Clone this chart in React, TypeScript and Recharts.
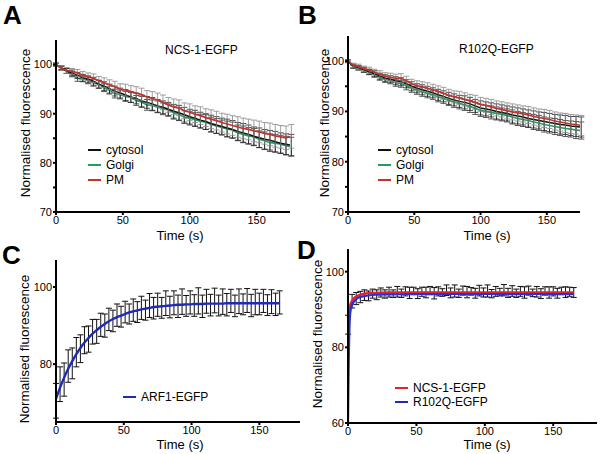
import React from 'react';
import { LineChart, Line, XAxis, YAxis, ErrorBar } from 'recharts';

// ---------- data ----------
const timeAB = [0, 4, 8, 12, 16, 20, 24, 28, 32, 36, 40, 44, 48, 52, 56, 60, 64, 68, 72, 76, 80, 84, 88, 92, 96, 100, 104, 108, 112, 116, 120, 124, 128, 132, 136, 140, 144, 148, 152, 156, 160, 164, 168, 172, 176];

// Panel A: NCS-1-EGFP
const cytosolA = [100.0, 99.4, 98.7, 98.3, 97.8, 97.3, 97.0, 96.6, 96.0, 95.6, 95.1, 94.6, 94.2, 93.8, 93.4, 93.1, 92.6, 92.3, 92.0, 91.6, 91.3, 90.9, 90.5, 90.2, 89.8, 89.4, 89.1, 88.7, 88.4, 88.0, 87.7, 87.4, 87.1, 86.8, 86.4, 86.1, 85.8, 85.4, 85.1, 84.8, 84.6, 84.3, 84.0, 83.8, 83.6];
const golgiA = [100.0, 99.2, 98.7, 98.0, 97.2, 97.1, 96.8, 96.3, 96.0, 95.3, 94.8, 94.1, 93.9, 93.5, 93.3, 92.7, 92.4, 91.8, 91.7, 91.4, 91.0, 90.8, 90.2, 89.9, 89.3, 89.1, 88.8, 88.5, 88.3, 87.8, 87.5, 87.2, 86.9, 86.7, 86.1, 85.8, 85.5, 85.3, 84.8, 84.5, 84.1, 84.0, 83.8, 83.5, 83.3];
const pmA = [100.0, 99.3, 98.8, 98.6, 98.3, 97.8, 97.5, 97.2, 96.7, 96.3, 95.9, 95.5, 95.0, 94.8, 94.5, 94.2, 93.9, 93.4, 93.1, 92.8, 92.3, 91.8, 91.4, 91.2, 90.6, 90.3, 89.9, 89.6, 89.2, 88.9, 88.6, 88.2, 87.9, 87.6, 87.3, 87.0, 86.8, 86.5, 86.3, 86.0, 85.8, 85.5, 85.3, 85.1, 85.4];
const cytosolErrA = [0.3, 0.4, 0.5, 0.6, 0.6, 0.7, 0.7, 0.8, 0.8, 0.9, 0.9, 1.0, 1.0, 1.1, 1.1, 1.1, 1.2, 1.2, 1.3, 1.3, 1.3, 1.4, 1.4, 1.5, 1.5, 1.5, 1.6, 1.6, 1.6, 1.7, 1.7, 1.7, 1.8, 1.8, 1.8, 1.9, 1.9, 1.9, 2.0, 2.0, 2.0, 2.1, 2.1, 2.1, 2.2];
const golgiErrA = [0.3, 0.4, 0.5, 0.5, 0.6, 0.6, 0.7, 0.7, 0.8, 0.8, 0.8, 0.9, 0.9, 1.0, 1.0, 1.0, 1.1, 1.1, 1.1, 1.2, 1.2, 1.2, 1.3, 1.3, 1.3, 1.4, 1.4, 1.4, 1.5, 1.5, 1.5, 1.5, 1.6, 1.6, 1.6, 1.7, 1.7, 1.7, 1.7, 1.8, 1.8, 1.8, 1.8, 1.9, 1.9];
const pmErrA = [0.3, 0.5, 0.6, 0.6, 0.7, 0.8, 0.8, 0.9, 0.9, 1.0, 1.0, 1.1, 1.1, 1.2, 1.2, 1.3, 1.3, 1.3, 1.4, 1.4, 1.5, 1.5, 1.6, 1.6, 1.6, 1.7, 1.7, 1.8, 1.8, 1.9, 1.9, 1.9, 2.0, 2.0, 2.1, 2.1, 2.1, 2.2, 2.2, 2.2, 2.3, 2.3, 2.3, 2.4, 2.4];

// Panel B: R102Q-EGFP
const cytosolB = [100.0, 99.0, 98.7, 98.3, 97.9, 97.5, 97.0, 96.6, 96.4, 96.1, 95.9, 95.5, 95.0, 94.6, 94.3, 94.0, 93.7, 93.3, 93.0, 92.6, 92.3, 92.0, 91.8, 91.5, 91.1, 90.7, 90.5, 90.3, 90.0, 89.8, 89.6, 89.3, 89.1, 88.9, 88.6, 88.4, 88.2, 88.0, 87.8, 87.6, 87.4, 87.3, 87.1, 87.0, 86.9];
const golgiB = [100.0, 98.9, 98.6, 98.2, 97.8, 97.3, 96.8, 96.4, 96.1, 95.7, 95.5, 95.1, 94.6, 94.2, 93.9, 93.6, 93.3, 92.9, 92.6, 92.2, 91.9, 91.6, 91.3, 91.0, 90.6, 90.2, 90.0, 89.8, 89.6, 89.4, 89.2, 88.9, 88.6, 88.4, 88.2, 87.9, 87.7, 87.4, 87.2, 87.0, 86.8, 86.6, 86.5, 86.3, 86.2];
const pmB = [100.0, 99.2, 98.9, 98.5, 98.2, 97.8, 97.4, 97.0, 96.8, 96.6, 96.6, 96.1, 95.5, 95.1, 94.9, 94.6, 94.3, 94.0, 93.6, 93.2, 92.9, 92.7, 92.4, 92.1, 91.8, 91.4, 91.2, 90.9, 90.6, 90.4, 90.1, 89.9, 89.7, 89.5, 89.3, 89.0, 88.8, 88.6, 88.4, 88.1, 87.9, 87.7, 87.5, 87.4, 87.2];
const cytosolErrB = [0.3, 0.4, 0.4, 0.5, 0.5, 0.6, 0.6, 0.7, 0.7, 0.8, 0.8, 0.8, 0.9, 0.9, 1.0, 1.0, 1.0, 1.1, 1.1, 1.2, 1.2, 1.2, 1.3, 1.3, 1.3, 1.4, 1.4, 1.4, 1.5, 1.5, 1.5, 1.6, 1.6, 1.6, 1.7, 1.7, 1.7, 1.8, 1.8, 1.8, 1.9, 1.9, 1.9, 2.0, 2.0];
const golgiErrB = [0.2, 0.3, 0.4, 0.4, 0.5, 0.5, 0.6, 0.6, 0.6, 0.7, 0.7, 0.8, 0.8, 0.8, 0.9, 0.9, 0.9, 1.0, 1.0, 1.0, 1.1, 1.1, 1.1, 1.2, 1.2, 1.2, 1.2, 1.3, 1.3, 1.3, 1.3, 1.4, 1.4, 1.4, 1.4, 1.5, 1.5, 1.5, 1.5, 1.6, 1.6, 1.6, 1.6, 1.7, 1.7];
const pmErrB = [0.3, 0.4, 0.5, 0.5, 0.6, 0.6, 0.7, 0.7, 0.8, 0.8, 0.9, 0.9, 0.9, 1.0, 1.0, 1.1, 1.1, 1.1, 1.2, 1.2, 1.2, 1.3, 1.3, 1.3, 1.4, 1.4, 1.4, 1.5, 1.5, 1.5, 1.6, 1.6, 1.6, 1.6, 1.7, 1.7, 1.7, 1.8, 1.8, 1.8, 1.8, 1.9, 1.9, 1.9, 2.0];

// Panels C and D
const timeCD = [0, 3, 6, 9, 12, 15, 18, 21, 24, 27, 30, 33, 36, 39, 42, 45, 48, 51, 54, 57, 60, 63, 66, 69, 72, 75, 78, 81, 84, 87, 90, 93, 96, 99, 102, 105, 108, 111, 114, 117, 120, 123, 126, 129, 132, 135, 138, 141, 144, 147, 150, 153, 156, 159, 162, 165];
const arf1Fit = [71.0, 73.9, 76.5, 78.8, 80.8, 82.6, 84.2, 85.6, 86.8, 87.9, 88.8, 89.7, 90.4, 91.1, 91.7, 92.2, 92.6, 93.0, 93.4, 93.7, 93.9, 94.2, 94.4, 94.6, 94.8, 94.9, 95.0, 95.1, 95.2, 95.3, 95.4, 95.4, 95.5, 95.5, 95.6, 95.6, 95.6, 95.7, 95.7, 95.7, 95.7, 95.7, 95.8, 95.8, 95.8, 95.8, 95.8, 95.8, 95.8, 95.8, 95.8, 95.8, 95.8, 95.8, 95.8, 95.8];
const arf1Data = [70.5, 74.8, 76.0, 79.5, 80.2, 83.1, 84.0, 86.2, 86.5, 88.4, 88.5, 90.2, 90.0, 91.6, 91.2, 92.7, 92.3, 93.5, 93.0, 94.0, 93.5, 94.6, 94.0, 95.2, 94.5, 95.4, 94.6, 95.8, 94.8, 95.9, 95.0, 96.2, 95.1, 96.0, 95.2, 96.4, 95.0, 96.3, 95.3, 96.5, 95.2, 96.2, 95.4, 96.4, 95.1, 96.3, 95.5, 96.5, 95.2, 96.1, 95.6, 96.4, 95.3, 96.2, 95.5, 96.0];
const arf1Err = [4.5, 4.5, 4.3, 4.2, 4.0, 3.8, 3.6, 3.5, 3.4, 3.2, 3.1, 3.0, 3.0, 2.9, 2.8, 2.9, 2.7, 2.8, 2.6, 2.9, 2.7, 3.0, 2.6, 3.1, 2.8, 3.0, 2.7, 3.2, 2.8, 3.1, 2.9, 3.3, 2.7, 3.0, 2.8, 3.4, 2.9, 3.1, 2.8, 3.2, 2.7, 3.3, 2.9, 3.0, 2.8, 3.2, 2.7, 3.1, 2.9, 3.3, 2.8, 3.0, 2.7, 3.1, 2.9, 3.0];
const ncsData = [86.0, 92.2, 92.9, 93.3, 93.8, 93.6, 94.2, 93.9, 94.5, 94.1, 94.6, 94.2, 94.7, 94.3, 94.8, 94.4, 94.9, 94.2, 94.7, 94.5, 95.0, 94.3, 94.8, 94.5, 95.1, 94.4, 94.9, 94.3, 95.0, 94.6, 94.8, 94.3, 95.0, 94.5, 94.9, 94.2, 94.8, 94.6, 95.1, 94.4, 94.9, 94.3, 94.8, 94.5, 95.0, 94.4, 94.7, 94.2, 94.9, 94.5, 94.8, 94.3, 94.9, 94.6, 94.7, 94.5];
const ncsErr = [2.5, 1.8, 1.6, 1.5, 1.4, 1.3, 1.2, 1.3, 1.2, 1.1, 1.3, 1.0, 1.4, 1.1, 1.2, 1.5, 1.0, 1.3, 1.2, 1.4, 1.1, 1.5, 1.2, 1.0, 1.4, 1.3, 1.6, 1.1, 1.2, 1.5, 1.0, 1.3, 1.4, 1.2, 1.6, 1.1, 1.3, 1.0, 1.5, 1.2, 1.4, 1.1, 1.3, 1.5, 1.2, 1.0, 1.4, 1.3, 1.1, 1.5, 1.2, 1.3, 1.0, 1.4, 1.2, 1.3];
const fitTimeD = [0, 0.3, 0.6, 1, 1.5, 2, 3, 4, 5, 7, 10, 15, 20, 30, 45, 60, 90, 120, 165];
const ncsFit = [85.0, 87.5, 89.0, 90.0, 91.0, 91.6, 92.3, 92.8, 93.2, 93.6, 94.0, 94.3, 94.4, 94.5, 94.5, 94.5, 94.5, 94.5, 94.5];
const r102qFit = [60.0, 70.0, 78.0, 84.5, 88.5, 90.0, 91.2, 91.9, 92.4, 93.0, 93.4, 93.7, 93.9, 94.0, 94.1, 94.1, 94.1, 94.1, 94.1];

const xTicksAB = [0, 50, 100, 150];
const yTicksAB = [70, 75, 80, 85, 90, 95, 100];
const xTicksCD = [0, 50, 100, 150];
const yTicksC = [80, 100];
const yTicksD = [60, 80, 100];

// ---------- tables ----------
const rowsA = timeAB.map((t, i) => ({ t, c: cytosolA[i], ce: cytosolErrA[i], g: golgiA[i], ge: golgiErrA[i], p: pmA[i], pe: pmErrA[i] }));
const rowsB = timeAB.map((t, i) => ({ t, c: cytosolB[i], ce: cytosolErrB[i], g: golgiB[i], ge: golgiErrB[i], p: pmB[i], pe: pmErrB[i] }));
const rowsC = timeCD.map((t, i) => ({ t, d: arf1Data[i], de: arf1Err[i], f: arf1Fit[i] }));
const rowsD = timeCD.map((t, i) => ({ t, d: ncsData[i], de: ncsErr[i] }));
const fitRowsD = fitTimeD.map((t, i) => ({ t, n: ncsFit[i], r: r102qFit[i] }));

// ---------- styles ----------
const FONT = '"Liberation Sans", Arial, Helvetica, sans-serif';
const BLACK = '#111111';
const GREEN = '#1f9e5c';
const RED = '#c4332b';
const NAVY = '#1e2ab8';
const DRED = '#e3232b';
const DBLUE = '#2330e0';

const axisLineS = { stroke: '#000', strokeWidth: 2 };
const tickLineS = { stroke: '#000', strokeWidth: 2 };
const tickS = { fill: '#000', fontSize: 11 };
const fmt10 = (v: number) => (v % 10 === 0 ? String(v) : '');

const T = (p: { x: number; y: number; size?: number; bold?: boolean; center?: boolean; children: React.ReactNode }) => (
  <div
    style={{
      position: 'absolute',
      left: p.x,
      top: p.y,
      fontSize: p.size ?? 12,
      fontWeight: p.bold ? 'bold' : 'normal',
      lineHeight: 1,
      whiteSpace: 'nowrap',
      color: '#000',
      transform: p.center ? 'translate(-50%, -50%)' : 'translateY(-50%)',
    }}
  >
    {p.children}
  </div>
);

const YLab = (p: { x: number; y: number }) => (
  <div
    style={{
      position: 'absolute',
      left: p.x,
      top: p.y,
      fontSize: 13.5,
      lineHeight: 1,
      whiteSpace: 'nowrap',
      transform: 'translate(-50%, -50%) rotate(-90deg)',
    }}
  >
    Normalised fluorescence
  </div>
);

const Leg = (p: { x: number; y: number; color: string; label: string }) => (
  <div style={{ position: 'absolute', left: p.x, top: p.y, transform: 'translateY(-50%)', display: 'flex', alignItems: 'center', whiteSpace: 'nowrap', fontSize: 12, lineHeight: 1 }}>
    <span style={{ display: 'inline-block', width: 13, height: 2, background: p.color, marginRight: 5 }} />
    <span>{p.label}</span>
  </div>
);

const Abs = (p: { x: number; y: number; children: React.ReactNode }) => (
  <div style={{ position: 'absolute', left: p.x, top: p.y }}>{p.children}</div>
);

function DecayChart(props: { rows: any[]; top: number; left: number; right: number }) {
  return (
    <LineChart width={300} height={240} data={props.rows} margin={{ top: props.top, right: props.right, left: props.left, bottom: 8 }}>
      <XAxis type="number" dataKey="t" domain={[0, 175]} ticks={xTicksAB} allowDataOverflow height={20} axisLine={axisLineS} tickLine={tickLineS} tickSize={3} tickMargin={1} tick={tickS} />
      <YAxis type="number" domain={[70, 105]} ticks={yTicksAB} tickFormatter={fmt10} allowDataOverflow width={36} axisLine={axisLineS} tickLine={tickLineS} tickSize={3} tickMargin={1} tick={tickS} />
      <Line dataKey="g" stroke={GREEN} strokeWidth={1.7} dot={false} activeDot={false} isAnimationActive={false}>
        <ErrorBar dataKey="ge" width={3} stroke="#333" strokeWidth={0.8} direction="y" />
      </Line>
      <Line dataKey="c" stroke={BLACK} strokeWidth={1.5} dot={false} activeDot={false} isAnimationActive={false}>
        <ErrorBar dataKey="ce" width={3} stroke="#222" strokeWidth={0.8} direction="y" />
      </Line>
      <Line dataKey="p" stroke={RED} strokeWidth={1.7} dot={false} activeDot={false} isAnimationActive={false}>
        <ErrorBar dataKey="pe" width={3} stroke="#888" strokeWidth={0.8} direction="y" />
      </Line>
    </LineChart>
  );
}

export default function App() {
  return (
    <div style={{ position: 'absolute', left: 0, top: 0, width: 600, height: 454, background: '#fff', fontFamily: FONT, overflow: 'hidden' }}>
      <Abs x={0} y={0}>
        <DecayChart rows={rowsA} top={40} left={20} right={10} />
      </Abs>
      <Abs x={300} y={0}>
        <DecayChart rows={rowsB} top={36} left={12} right={20} />
      </Abs>

      <Abs x={0} y={227}>
        <LineChart width={300} height={227} data={rowsC} margin={{ top: 33, right: 0, left: 20, bottom: 12 }}>
          <XAxis type="number" dataKey="t" domain={[0, 180]} ticks={xTicksCD} allowDataOverflow height={20} axisLine={axisLineS} tickLine={tickLineS} tickSize={3} tickMargin={1} tick={tickS} />
          <YAxis type="number" domain={[65, 107]} ticks={yTicksC} allowDataOverflow width={36} axisLine={axisLineS} tickLine={tickLineS} tickSize={3} tickMargin={1} tick={tickS} />
          <Line dataKey="d" stroke="none" dot={false} activeDot={false} isAnimationActive={false}>
            <ErrorBar dataKey="de" width={3} stroke="#111" strokeWidth={1} direction="y" />
          </Line>
          <Line dataKey="f" stroke={NAVY} strokeWidth={2.4} dot={false} activeDot={false} type="monotone" isAnimationActive={false} />
        </LineChart>
      </Abs>

      <Abs x={300} y={227}>
        <LineChart width={300} height={227} data={rowsD} margin={{ top: 22, right: 3, left: 12, bottom: 11 }}>
          <XAxis type="number" dataKey="t" domain={[0, 182]} ticks={xTicksCD} allowDataOverflow height={20} axisLine={axisLineS} tickLine={tickLineS} tickSize={3} tickMargin={1} tick={tickS} />
          <YAxis type="number" domain={[60, 106]} ticks={yTicksD} allowDataOverflow width={36} axisLine={axisLineS} tickLine={tickLineS} tickSize={3} tickMargin={1} tick={tickS} />
          <Line dataKey="d" stroke="none" dot={false} activeDot={false} isAnimationActive={false}>
            <ErrorBar dataKey="de" width={3} stroke="#111" strokeWidth={1} direction="y" />
          </Line>
          <Line data={fitRowsD} dataKey="n" stroke={DRED} strokeWidth={2.4} dot={false} activeDot={false} type="monotone" isAnimationActive={false} />
          <Line data={fitRowsD} dataKey="r" stroke={DBLUE} strokeWidth={2.2} dot={false} activeDot={false} type="monotone" isAnimationActive={false} />
        </LineChart>
      </Abs>

      {/* panel letters */}
      <div style={{ position: 'absolute', left: 3, top: 2, fontSize: 26, fontWeight: 'bold', lineHeight: 1 }}>A</div>
      <div style={{ position: 'absolute', left: 298, top: 2, fontSize: 26, fontWeight: 'bold', lineHeight: 1 }}>B</div>
      <div style={{ position: 'absolute', left: 2, top: 242, fontSize: 26, fontWeight: 'bold', lineHeight: 1 }}>C</div>
      <div style={{ position: 'absolute', left: 297, top: 237, fontSize: 26, fontWeight: 'bold', lineHeight: 1 }}>D</div>

      {/* titles */}
      <T x={165} y={50}>NCS-1-EGFP</T>
      <T x={459} y={49}>R102Q-EGFP</T>

      {/* axis titles */}
      <YLab x={26} y={123} />
      <YLab x={325} y={123} />
      <YLab x={25} y={349} />
      <YLab x={318} y={334} />
      <T x={180} y={235} size={13} center>Time (s)</T>
      <T x={487} y={235} size={13} center>Time (s)</T>
      <T x={180} y={444} size={13} center>Time (s)</T>
      <T x={487} y={444} size={13} center>Time (s)</T>

      {/* legends */}
      <Leg x={88} y={150} color={BLACK} label="cytosol" />
      <Leg x={88} y={165} color={GREEN} label="Golgi" />
      <Leg x={88} y={180} color={RED} label="PM" />
      <Leg x={378} y={150} color={BLACK} label="cytosol" />
      <Leg x={378} y={165} color={GREEN} label="Golgi" />
      <Leg x={378} y={180} color={RED} label="PM" />
      <Leg x={123} y={397} color={NAVY} label="ARF1-EGFP" />
      <Leg x={395} y={388} color={DRED} label="NCS-1-EGFP" />
      <Leg x={395} y={402} color={NAVY} label="R102Q-EGFP" />
    </div>
  );
}
